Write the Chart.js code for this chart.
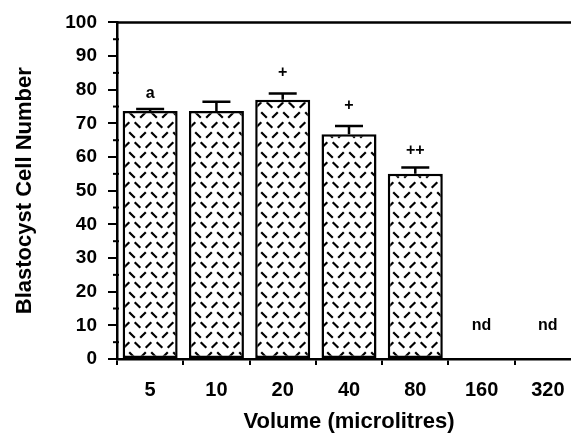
<!DOCTYPE html>
<html>
<head>
<meta charset="utf-8">
<script src="https://cdn.jsdelivr.net/npm/chart.js@4"></script>
<style>
  html, body { margin:0; padding:0; background:#fff; overflow:hidden; }
  #wrap { width:592px; height:433px; }
</style>
</head>
<body>
<div id="wrap"><canvas id="cellChart" width="592" height="433"></canvas></div>
<script>
// values
const volumes = ['5', '10', '20', '40', '80', '160', '320'];
const cellNumber = [73.7, 73.7, 77.0, 66.8, 55.0, null, null];
const errorTop = [74.3, 76.4, 78.9, 69.2, 56.9, null, null];
const marks = ['a', '', '+', '+', '++', 'nd', 'nd'];
const markAt = [78.8, null, 85.0, 75.4, 62.0, 10.0, 10.0];
const yTicks = [0, 10, 20, 30, 40, 50, 60, 70, 80, 90, 100];
const yMinor = [5, 15, 25, 35, 45, 55, 65, 75, 85, 95];

const FONT = "'Liberation Sans', Arial, sans-serif";

function makeHatch() {
  const c = document.createElement('canvas');
  c.width = 22; c.height = 20;
  const g = c.getContext('2d');
  g.fillStyle = '#fff';
  g.fillRect(0, 0, 22, 20);
  g.strokeStyle = '#000';
  g.lineWidth = 2.2;
  const dash = (cx, cy, dir) => {
    g.beginPath();
    g.moveTo(cx - 2.8, cy - 2.8 * dir);
    g.lineTo(cx + 2.8, cy + 2.8 * dir);
    g.stroke();
  };
  dash(5.5, 5, 1);    // "\"
  dash(16.5, 5, -1);  // "/"
  dash(11, 15, -1);   // "/"
  dash(0, 15, 1);     // "\"
  dash(22, 15, 1);
  return g.createPattern(c, 'repeat');
}

const extras = {
  id: 'extras',
  afterDatasetsDraw(chart) {
    const ctx = chart.ctx;
    const x = chart.scales.x, y = chart.scales.y;
    const area = chart.chartArea;
    ctx.save();
    ctx.strokeStyle = '#000';
    // top frame line
    ctx.lineWidth = 2.5;
    ctx.beginPath();
    ctx.moveTo(area.left, area.top);
    ctx.lineTo(area.right, area.top);
    ctx.stroke();
    // minor ticks
    ctx.lineWidth = 2;
    yMinor.forEach(v => {
      const py = y.getPixelForValue(v);
      ctx.beginPath();
      ctx.moveTo(area.left - 4, py);
      ctx.lineTo(area.left + 2, py);
      ctx.stroke();
    });
    // one-sided error bars
    const meta = chart.getDatasetMeta(0);
    ctx.lineWidth = 2.5;
    errorTop.forEach((e, i) => {
      if (e == null) return;
      const bar = meta.data[i];
      const cx = bar.x;
      const ty = y.getPixelForValue(e);
      ctx.beginPath();
      ctx.moveTo(cx, bar.y);
      ctx.lineTo(cx, ty);
      ctx.moveTo(cx - 14, ty);
      ctx.lineTo(cx + 14, ty);
      ctx.stroke();
    });
    // significance marks
    ctx.fillStyle = '#000';
    ctx.font = 'bold 16px ' + FONT;
    ctx.textAlign = 'center';
    ctx.textBaseline = 'middle';
    marks.forEach((m, i) => {
      if (!m || markAt[i] == null) return;
      ctx.fillText(m, x.getPixelForValue(i), y.getPixelForValue(markAt[i]));
    });
    ctx.restore();
  }
};

new Chart(document.getElementById('cellChart').getContext('2d'), {
  type: 'bar',
  data: {
    labels: volumes,
    datasets: [{
      label: 'Blastocyst Cell Number',
      data: cellNumber,
      backgroundColor: makeHatch(),
      borderColor: '#000',
      borderWidth: 2.5,
      borderSkipped: false,
      categoryPercentage: 1.0,
      barPercentage: 0.83
    }]
  },
  options: {
    responsive: false,
    animation: false,
    layout: { padding: { top: 21, right: 11, bottom: 0, left: 0 } },
    plugins: { legend: { display: false }, tooltip: { enabled: false } },
    scales: {
      x: {
        afterFit(s) { s.height = 74; },
        grid: { drawOnChartArea: false, color: '#000', lineWidth: 2, tickLength: 6, offset: true },
        border: { display: true, color: '#000', width: 2.5 },
        ticks: { color: '#000', padding: 13, maxRotation: 0, font: { family: FONT, size: 20, weight: 'bold' } },
        title: { display: true, text: 'Volume (microlitres)', color: '#000', padding: { top: 0, bottom: 0 },
                 font: { family: FONT, size: 22, weight: 'bold', lineHeight: 1 } }
      },
      y: {
        min: 0, max: 100,
        afterFit(s) { s.width = 117; },
        afterBuildTicks(s) { s.ticks = yTicks.map(v => ({ value: v })); },
        grid: { drawOnChartArea: false, color: '#000', lineWidth: 2, tickLength: 9 },
        border: { display: true, color: '#000', width: 2.5 },
        ticks: { color: '#000', padding: 11, font: { family: FONT, size: 19, weight: 'bold' } },
        title: { display: true, text: 'Blastocyst Cell Number', color: '#000', padding: { top: 14, bottom: 0 },
                 font: { family: FONT, size: 22, weight: 'bold', lineHeight: 1 } }
      }
    }
  },
  plugins: [extras]
});
</script>
</body>
</html>
